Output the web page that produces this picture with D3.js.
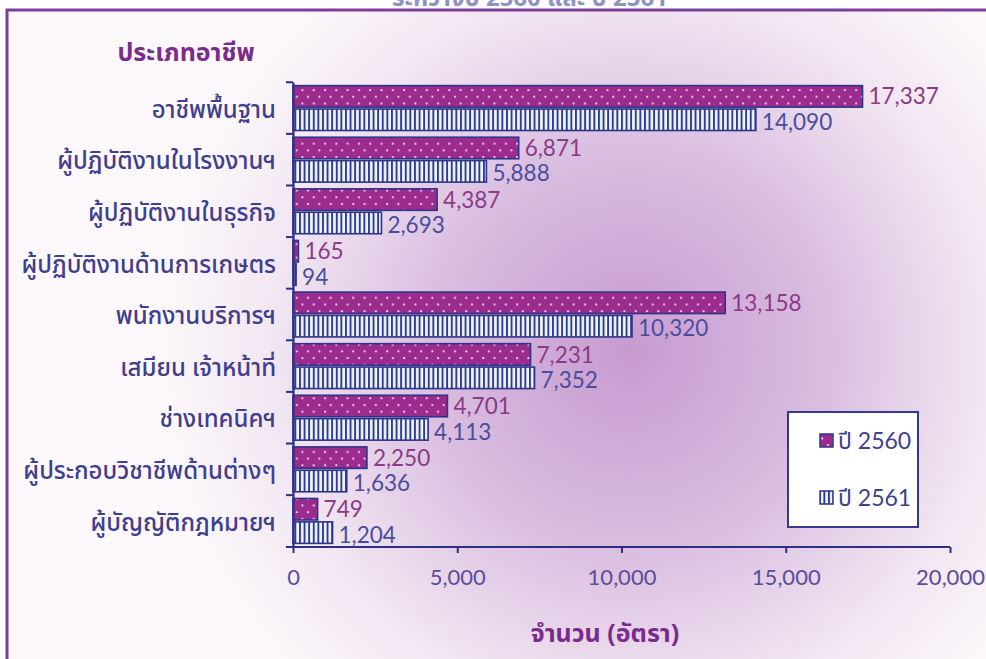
<!DOCTYPE html>
<html><head><meta charset="utf-8">
<script src="https://cdn.jsdelivr.net/npm/d3@7"></script>
<style>
html,body{margin:0;padding:0;background:#fff;overflow:hidden}
svg{display:block}
text{font-family:"Noto Sans Thai","Loma","Garuda","Tlwg Typo","DejaVu Sans",sans-serif}
.num{font-family:Lato,"Noto Sans Thai",sans-serif}
</style></head>
<body>
<svg id="chart" width="986" height="659"></svg>
<script>
const categories = ["อาชีพพื้นฐาน","ผู้ปฏิบัติงานในโรงงานฯ","ผู้ปฏิบัติงานในธุรกิจ","ผู้ปฏิบัติงานด้านการเกษตร","พนักงานบริการฯ","เสมียน เจ้าหน้าที่","ช่างเทคนิคฯ","ผู้ประกอบวิชาชีพด้านต่างๆ","ผู้บัญญัติกฎหมายฯ"];
const values2560 = [17337,6871,4387,165,13158,7231,4701,2250,749];
const values2561 = [14090,5888,2693,94,10320,7352,4113,1636,1204];
const seriesNames = ["ปี 2560","ปี 2561"];
const xTicks = [0,5000,10000,15000,20000];
const titleText = "ระหว่างปี 2560 และ ปี 2561";
const yTitle = "ประเภทอาชีพ";
const xTitle = "จำนวน (อัตรา)";

const svg = d3.select("#chart");
const defs = svg.append("defs");

const bg = defs.append("radialGradient").attr("id","bg").attr("gradientUnits","userSpaceOnUse")
  .attr("cx",630).attr("cy",350).attr("r",470);
bg.append("stop").attr("offset","0").attr("stop-color","#c79bd0");
bg.append("stop").attr("offset","0.4").attr("stop-color","#d8bbdf");
bg.append("stop").attr("offset","0.75").attr("stop-color","#f1e5f1");
bg.append("stop").attr("offset","1").attr("stop-color","#fcf8fb");

const dots = defs.append("pattern").attr("id","dots").attr("patternUnits","userSpaceOnUse")
  .attr("width",11.3).attr("height",13.4);
dots.append("rect").attr("width",11.3).attr("height",13.4).attr("fill","#9b2b8d");
dots.append("circle").attr("cx",3).attr("cy",3).attr("r",1.1).attr("fill","#f6d7ee");
dots.append("circle").attr("cx",8.65).attr("cy",9.7).attr("r",1.1).attr("fill","#f6d7ee");

const stripes = defs.append("pattern").attr("id","stripes").attr("patternUnits","userSpaceOnUse")
  .attr("width",4.6).attr("height",10);
stripes.append("rect").attr("width",4.6).attr("height",10).attr("fill","#eef4fb");
stripes.append("rect").attr("x",0).attr("width",1.9).attr("height",10).attr("fill","#2f3a90");

// frame & background
svg.append("rect").attr("x",7).attr("y",10).attr("width",1000).attr("height",700)
  .attr("fill","url(#bg)").attr("stroke","#7c3f99").attr("stroke-width",3);

// cut-off title (cropped in the reference)
svg.append("text").attr("x",530).attr("y",6).attr("text-anchor","middle")
  .attr("font-size",24).attr("font-weight","bold").attr("fill","#8e93c2").text(titleText);

const x = d3.scaleLinear().domain([0,20000]).range([293,950]);
const y = d3.scaleBand().domain(categories).range([82,547]).paddingInner(0.13).paddingOuter(0.07);
const ySub = d3.scaleBand().domain(seriesNames).range([0,y.bandwidth()]).paddingInner(0.08);

const rows = categories.map((c,i)=>({c, v:[values2560[i],values2561[i]]}));

const fills = ["url(#dots)","url(#stripes)"];
const labelColors = ["#8b3a88","#4a4d9e"];

const g = svg.append("g");
rows.forEach(r=>{
  r.v.forEach((v,j)=>{
    const yy = y(r.c)+ySub(seriesNames[j]);
    g.append("rect").attr("x",x(0)).attr("y",yy).attr("width",x(v)-x(0)).attr("height",ySub.bandwidth())
      .attr("fill",fills[j]).attr("stroke","#2e3589").attr("stroke-width",1.6);
    g.append("text").attr("class","num").attr("x",x(v)+6).attr("y",yy+ySub.bandwidth()/2+(j?2:0)).attr("dy","0.36em")
      .attr("font-size",22.5).attr("fill",labelColors[j]).text(d3.format(",")(v));
  });
});

// axes
const yAxis = d3.axisLeft(y).tickSize(0).tickFormat("");
const ay = svg.append("g").attr("transform",`translate(${x(0)},0)`).call(yAxis);
ay.select(".domain").attr("stroke","#2e2f83").attr("stroke-width",2.2);
const bounds = categories.map(c=>y(c)-y.step()*y.paddingInner()/2).concat([547]);
ay.selectAll("line.b").data(bounds).enter().append("line").attr("class","b")
  .attr("x1",-7).attr("x2",0).attr("y1",d=>d).attr("y2",d=>d).attr("stroke","#2e2f83").attr("stroke-width",2);
svg.append("g").selectAll("text").data(categories).enter().append("text")
  .attr("x",276).attr("y",d=>y(d)+y.bandwidth()/2+1).attr("dy","0.36em").attr("text-anchor","end")
  .attr("font-size",24).attr("font-weight",500).attr("fill","#403e8e").text(d=>d);

const xAxis = d3.axisBottom(x).tickValues(xTicks).tickSize(6).tickPadding(16).tickFormat(d3.format(","));
const ax = svg.append("g").attr("transform","translate(0,547)").call(xAxis);
ax.select(".domain").attr("stroke","#2e2f83").attr("stroke-width",2.2).attr("d",`M${x(0)},0H${x(20000)}`);
ax.selectAll(".tick line").attr("stroke","#2e2f83").attr("stroke-width",2);
ax.selectAll(".tick text").attr("class","num").attr("font-size",22).attr("fill","#5b4c9c");

// titles
svg.append("text").attr("x",186).attr("y",61).attr("text-anchor","middle").attr("font-size",25)
  .attr("font-weight","bold").attr("fill","#7a2c8c").text(yTitle);
svg.append("text").attr("x",605).attr("y",642).attr("text-anchor","middle").attr("font-size",25)
  .attr("font-weight","bold").attr("fill","#7a2c8c").text(xTitle);

// legend
const lg = svg.append("g");
lg.append("rect").attr("x",788).attr("y",412).attr("width",130).attr("height",115)
  .attr("fill","#ffffff").attr("stroke","#343a8c").attr("stroke-width",2);
seriesNames.forEach((s,j)=>{
  const ly = 441 + j*57;
  lg.append("rect").attr("x",820).attr("y",ly-7).attr("width",13).attr("height",13)
    .attr("fill",fills[j]).attr("stroke","#2e3589").attr("stroke-width",1.5);
  lg.append("text").attr("class","num").attr("x",838).attr("y",ly).attr("dy","0.36em").attr("font-size",23)
    .attr("fill","#3f3f8f").text(s);
});
</script>
</body></html>
